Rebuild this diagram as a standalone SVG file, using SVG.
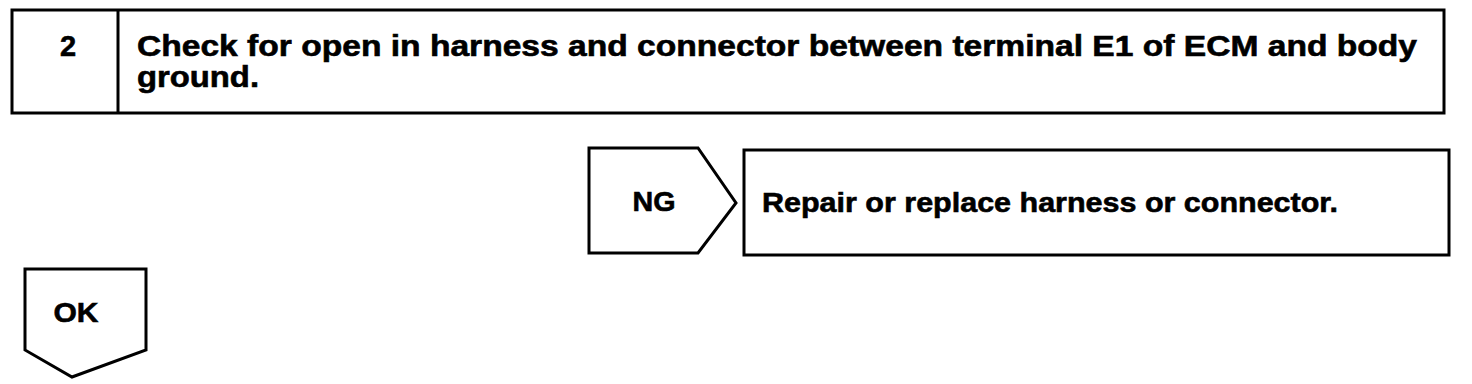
<svg xmlns="http://www.w3.org/2000/svg" width="1472" height="384" viewBox="0 0 1472 384">
<style>
.box{fill:#fff;stroke:#000;stroke-width:3;stroke-linejoin:miter}
.t{font-family:"Liberation Sans",Arial,sans-serif;font-weight:bold;fill:#000;stroke:#000;stroke-width:0.6}
</style>
<rect width="1472" height="384" fill="#fff"/>
<g id="step">
<rect class="box" x="12" y="10" width="1432" height="103"/>
<line x1="118" y1="10" x2="118" y2="113" stroke="#000" stroke-width="3"/>
<text class="t" x="68" y="56" font-size="29" text-anchor="middle">2</text>
<text class="t" x="137" y="56" font-size="29" textLength="1280" lengthAdjust="spacingAndGlyphs">Check for open in harness and connector between terminal E1 of ECM and body</text>
<text class="t" x="137" y="87" font-size="29" textLength="122" lengthAdjust="spacingAndGlyphs">ground.</text>
</g>
<g id="ng">
<polygon class="box" points="589,148 698,148 736,203 698,253 589,253"/>
<text class="t" x="654" y="211" font-size="28" text-anchor="middle" textLength="43" lengthAdjust="spacingAndGlyphs">NG</text>
</g>
<g id="repair">
<rect class="box" x="744" y="150" width="705" height="105"/>
<text class="t" x="762" y="212" font-size="28" textLength="576" lengthAdjust="spacingAndGlyphs">Repair or replace harness or connector.</text>
</g>
<g id="ok">
<polygon class="box" points="25,269 146,269 146,350 72,377 25,350"/>
<text class="t" x="76" y="322" font-size="28" text-anchor="middle" textLength="45" lengthAdjust="spacingAndGlyphs">OK</text>
</g>
<g id="connectors"></g>
</svg>
